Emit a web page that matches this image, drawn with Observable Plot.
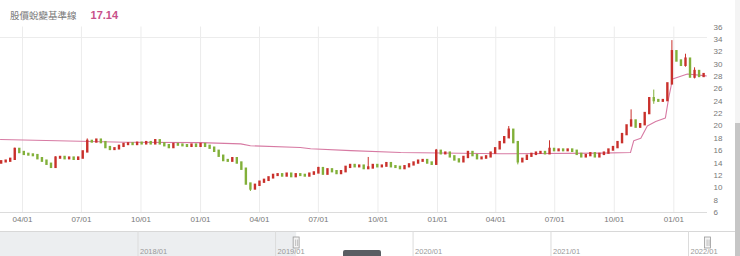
<!DOCTYPE html>
<html><head><meta charset="utf-8">
<script src="https://cdn.jsdelivr.net/npm/d3@7"></script>
<script src="https://cdn.jsdelivr.net/npm/@observablehq/plot@0.6"></script>
<style>
body{margin:0;background:#fff;width:740px;height:256px;overflow:hidden;position:relative;font-family:"Liberation Sans",Arial,sans-serif}
#hdr{position:absolute;left:10px;top:6px;height:16px;line-height:16px;white-space:nowrap;z-index:2}
#hdr .t{font-family:"Noto Sans CJK TC","Noto Sans CJK SC",sans-serif;font-size:9.5px;color:#777;vertical-align:middle}
#hdr .v{font-family:"Liberation Sans",Arial,sans-serif;font-size:11px;font-weight:bold;color:#c8508a;margin-left:14px;vertical-align:middle}
#topline{position:absolute;left:0;top:37px;width:707px;height:1px;background:#ececec}
#main{position:absolute;left:0;top:0}
#nav{position:absolute;left:0;top:231px}
#thumb{position:absolute;left:343px;top:250px;width:38px;height:6px;background:#5a5e63;border-radius:2px 2px 0 0}
#vs1{position:absolute;left:735px;top:0;width:5px;height:123px;background:#f4f4f4}
#vs2{position:absolute;left:735px;top:123px;width:5px;height:133px;background:#c6c6c6}
</style></head><body>
<div id="hdr"><span class="t">股價蛻變基準線</span><span class="v">17.14</span></div>
<div id="main"></div>
<div id="topline"></div>
<div id="nav"></div>
<div id="thumb"></div>
<div id="vs1"></div><div id="vs2"></div>
<script>
// weekly closes, week 0 starts 2019-02-25
const firstOpen = 14.0;
const closes = [14.2,14.3,14.6,16.2,15.7,15.4,15.3,15.2,14.7,14.3,
 13.8,13.3,14.8,14.9,14.7,14.8,14.6,14.8,15.8,17.5,
 17.4,17.7,17.3,16.5,16.2,16.3,16.7,17.0,17.1,17.0,
 17.2,17.1,17.3,17.1,17.6,17.1,16.8,16.5,17.0,16.9,
 16.8,16.7,16.9,16.7,17.0,16.7,16.4,15.9,15.1,14.4,
 14.3,14.7,14.0,13.0,10.6,9.8,10.4,10.9,11.2,11.6,
 12.0,12.1,11.9,12.2,11.8,12.1,12.0,11.9,12.2,12.4,
 13.1,12.2,12.9,12.6,12.3,12.6,13.3,13.6,13.4,13.5,
 13.1,13.2,13.6,13.4,13.5,13.9,13.4,13.3,13.1,13.4,
 13.7,14.0,14.3,14.4,14.0,13.8,15.9,15.5,15.6,15.0,
 14.5,14.2,14.9,15.7,15.2,14.7,14.8,15.0,15.6,16.3,
 17.3,18.1,19.3,17.3,14.2,14.6,15.1,15.4,15.6,15.7,
 15.5,16.2,16.0,16.1,16.0,16.1,15.9,15.4,15.0,15.2,
 15.5,15.0,15.4,15.6,16.1,16.5,17.3,18.6,20.0,20.8,
 19.8,20.2,22.0,24.4,24.1,24.0,24.1,26.8,32.0,30.5,
 29.8,30.8,27.9,28.8,28.0,28.3];
// visible wicks: week index, low, high
const wickWeek = [3, 12, 19, 34, 55, 70, 81, 96, 112, 114, 121, 139, 144, 148, 151, 153];
const wickLow  = [14.6,13.2,16.0,17.0,9.4,12.4,13.0,13.8,18.0,13.7,15.4,19.9,23.5,26.8,29.5,27.6];
const wickHigh = [16.4,15.0,17.9,17.8,10.6,13.3,14.9,16.2,19.9,17.3,17.6,22.6,25.8,33.8,31.6,29.4];
// baseline (pink line)
const baseDates = ["2019-02-26","2019-09-07","2020-01-01","2020-03-03","2020-03-18","2020-06-03","2020-06-19","2020-08-20","2020-11-05","2021-04-08","2021-09-10","2021-10-26","2021-10-31","2021-11-11","2021-11-21","2021-12-04","2021-12-19","2021-12-24","2021-12-30","2022-01-22","2022-02-20"];
const baseValues = [17.8,17.35,17.3,17.1,16.8,16.5,16.3,16.0,15.7,15.5,15.6,15.7,17.6,18.0,20.0,20.7,21.3,24.5,27.6,28.4,28.1];
const navYears = ["2018-01-01","2019-01-01","2020-01-01","2021-01-01","2022-01-01"];
const navLabels = ["2018/01","2019/01","2020/01","2021/01","2022/01"];
const yTicks = d3.range(6, 37, 2);

const viewStart = new Date("2019-02-26"), viewEnd = new Date("2022-02-22");
const mondays = d3.utcMonday.range(new Date("2019-02-25"), new Date("2022-02-21"));
const candles = closes.map((c, i) => {
  const o = i === 0 ? firstOpen : closes[i - 1];
  return {date: d3.utcDay.offset(mondays[i], 2), open: o, close: c, up: c >= o};
});
const wicks = wickWeek.map((w, k) => ({date: candles[w].date, lo: wickLow[k], hi: wickHigh[k], up: candles[w].up}));
const base = baseDates.map((d, i) => ({date: new Date(d), v: baseValues[i]}));
const qTicks = d3.utcMonth.every(3).range(viewStart, viewEnd);
const RED = "#c9302b", GREEN = "#82b03a", PINK = "#d77aa3";

const main = Plot.plot({
  width: 740, height: 231,
  marginTop: 26.5, marginBottom: 19, marginLeft: 0, marginRight: 33,
  style: {fontFamily: "Liberation Sans, Arial, sans-serif", fontSize: "8px", color: "#777", background: "transparent"},
  x: {type: "utc", domain: [viewStart, viewEnd]},
  y: {domain: [6, 36]},
  marks: [
    Plot.ruleX(qTicks, {stroke: "#ececec"}),
    Plot.ruleY([6], {stroke: "#dcdcdc"}),
    Plot.line(base, {x: "date", y: "v", stroke: PINK, strokeWidth: 1.1}),
    Plot.ruleX(wicks, {x: "date", y1: "lo", y2: "hi", stroke: d => d.up ? RED : GREEN, strokeWidth: 1}),
    Plot.ruleX(candles, {x: "date", y1: "open", y2: "close", stroke: d => d.up ? RED : GREEN, strokeWidth: 2.4, strokeLinecap: "square"}),
    Plot.axisX({ticks: qTicks, tickFormat: d3.utcFormat("%m/%d"), tickSize: 0, tickPadding: 4, label: null, fill: "#777"}),
    Plot.axisY({anchor: "right", ticks: yTicks, tickSize: 0, tickPadding: 6, label: null, fill: "#777", textAnchor: "start"})
  ]
});
document.getElementById("main").appendChild(main);

const nav = Plot.plot({
  width: 740, height: 25,
  margin: 0,
  style: {fontFamily: "Liberation Sans, Arial, sans-serif", fontSize: "7.5px", background: "transparent"},
  x: {type: "utc", domain: [new Date("2017-01-01"), new Date("2022-05-19")], axis: null},
  y: {domain: [0, 1], axis: null},
  marks: [
    Plot.rect([{a: new Date("2017-01-01"), b: viewStart}], {x1: "a", x2: "b", y1: 0, y2: 1, fill: "#eceef0"}),
    Plot.ruleY([1], {stroke: "#d8d8d8"}),
    Plot.ruleX(navYears.map(d => new Date(d)), {stroke: "#dcdcdc"}),
    Plot.text(navYears.map((d, i) => ({d: new Date(d), t: navLabels[i]})), {x: "d", text: "t", frameAnchor: "bottom", textAnchor: "start", dx: 2, dy: -3, fill: "#999"}),
    Plot.rect([viewStart, viewEnd], {x1: d => d, x2: d => d, insetLeft: -3, insetRight: -3, insetTop: 6, insetBottom: 8, fill: "#f4f4f4", stroke: "#999", strokeWidth: 0.8}),
    Plot.ruleX([viewStart, viewEnd], {insetTop: 8.5, insetBottom: 10, dx: -1, stroke: "#999", strokeWidth: 0.6}),
    Plot.ruleX([viewStart, viewEnd], {insetTop: 8.5, insetBottom: 10, dx: 1, stroke: "#999", strokeWidth: 0.6})
  ]
});
document.getElementById("nav").appendChild(nav);
</script>
</body></html>
